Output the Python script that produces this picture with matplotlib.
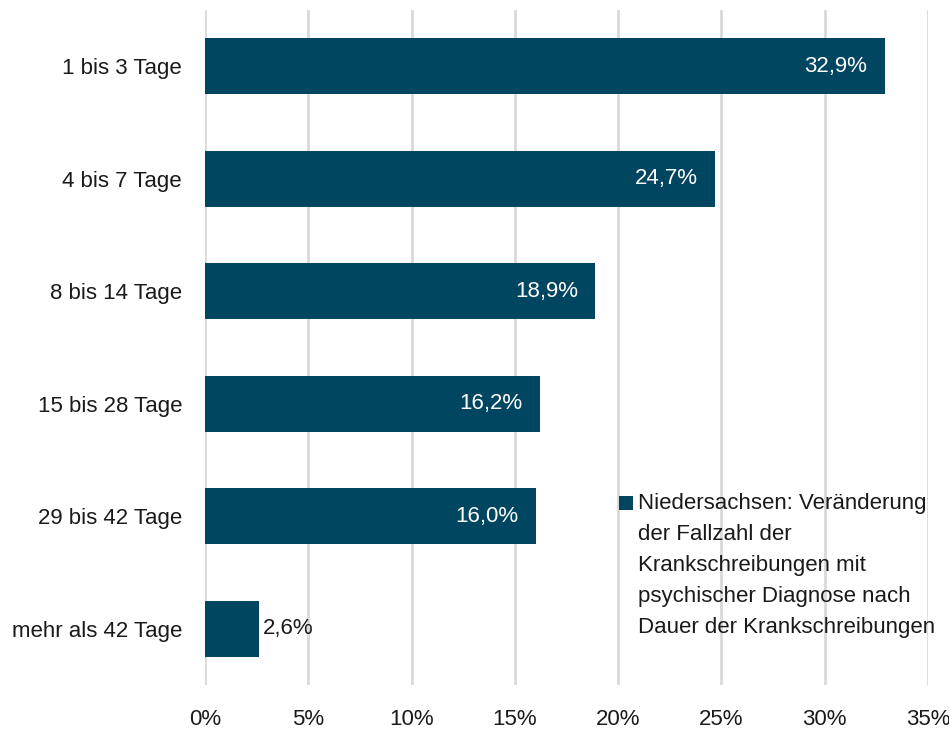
import matplotlib
matplotlib.use("Agg")
import matplotlib.pyplot as plt
from matplotlib.patches import Rectangle

plt.rcParams["font.family"] = ["Liberation Sans", "DejaVu Sans"]

categories = ["1 bis 3 Tage", "4 bis 7 Tage", "8 bis 14 Tage", "15 bis 28 Tage", "29 bis 42 Tage", "mehr als 42 Tage"]
values = [32.9, 24.7, 18.9, 16.2, 16.0, 2.6]
x_ticks = [0, 5, 10, 15, 20, 25, 30, 35]
legend_label = ("Niedersachsen: Veränderung\nder Fallzahl der\nKrankschreibungen mit\n"
                "psychischer Diagnose nach\nDauer der Krankschreibungen")

bar_color = "#004660"
text_color = "#1a1a1a"
W, H = 949, 729

fig = plt.figure(figsize=(W / 100, H / 100), dpi=100)
ax = fig.add_axes([205 / W, 1 - 685 / H, 723 / W, 675 / H])

pos = list(range(len(categories)))
ax.barh(pos, values, height=0.5, color=bar_color, zorder=3)
ax.set_ylim(len(categories) - 0.5, -0.5)
ax.set_xlim(0, 35)

ax.set_yticks(pos)
ax.set_yticklabels(categories, fontsize=16, color=text_color)
ax.set_xticks(x_ticks)
ax.set_xticklabels([f"{t}%" for t in x_ticks], fontsize=16, color=text_color)
ax.tick_params(axis="both", length=0)
ax.tick_params(axis="y", pad=16.5)
ax.tick_params(axis="x", pad=17)

ax.grid(axis="x", color="#d9d9d9", linewidth=2, zorder=0)
for side in ax.spines.values():
    side.set_visible(False)

for p, v in zip(pos, values):
    label = f"{v:.1f}".replace(".", ",") + "%"
    if v > 5:
        ax.text(v - 0.85, p, label, ha="right", va="center", color="white", fontsize=16, zorder=4)
    else:
        ax.text(v + 0.2, p, label, ha="left", va="center", color=text_color, fontsize=16, zorder=4)

# legend: square key aligned with the first line of the wrapped label
fig.patches.append(Rectangle((619 / W, 1 - 510 / H), 14 / W, 14 / H, transform=fig.transFigure,
                             facecolor=bar_color, edgecolor="none"))
fig.text(638 / W, 1 - 493 / H, legend_label, ha="left", va="top", fontsize=16,
         color=text_color, linespacing=1.63)

fig.savefig("out.png", dpi=100)
